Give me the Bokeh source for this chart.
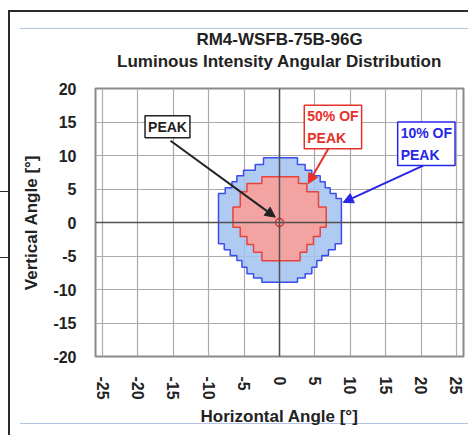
from bokeh.plotting import figure
from bokeh.models import FixedTicker, Span, Label, Arrow, NormalHead, LinearAxis
from bokeh.embed import file_html
from bokeh.resources import INLINE

# ---------------- data ----------------
title_top = "RM4-WSFB-75B-96G"
title_sub = "Luminous Intensity Angular Distribution"
x_label = "Horizontal Angle [°]"
y_label = "Vertical Angle [°]"
x_ticks = [-25, -20, -15, -10, -5, 0, 5, 10, 15, 20, 25]
y_ticks = [-20, -15, -10, -5, 0, 5, 10, 15, 20]

# 10 % of peak contour (stepped rows: row i spans blue_y_edges[i] .. blue_y_edges[i+1])
blue_y_edges = [9.66, 8.66, 7.81, 6.97, 6.07, 5.18, 4.33, 3.58, -3.18, -4.08, -4.93, -5.67, -6.67, -7.66, -8.3, -8.9]
blue_left = [-2.26, -3.43, -5.08, -6.02, -6.72, -7.67, -8.62, -8.62, -7.81, -6.96, -6.02, -5.31, -4.6, -3.67, -2.49]
blue_right = [2.54, 3.63, 4.57, 5.75, 6.46, 7.16, 8.0, 8.75, 7.87, 6.92, 5.98, 5.28, 4.57, 3.63, 2.54]

# 50 % of peak contour
red_y_edges = [6.82, 5.82, 4.58, 2.3, -0.7, -2.09, -3.28, -4.43, -5.7]
red_left = [-2.49, -4.6, -5.55, -6.58, -5.55, -4.6, -3.67, -2.49]
red_right = [2.69, 3.87, 5.51, 6.6, 5.75, 4.8, 3.87, 2.92]

peak_x = [0.0]
peak_y = [0.0]

# call-outs: text, box corner (x, y), arrow start, arrow end, colour
callout_text = ["PEAK", "50% OF\nPEAK", "10% OF\nPEAK"]
callout_x = [-19.0, 3.5, 16.7]
callout_y = [15.95, 17.5, 15.0]
arrow_x0 = [-15.4, 6.9, 20.3]
arrow_y0 = [12.2, 11.0, 8.5]
arrow_x1 = [-0.6, 4.05, 9.0]
arrow_y1 = [0.8, 5.8, 3.0]
callout_color = ["#222222", "#e8302a", "#2626e6"]


def stairs(edges, left, right):
    xs, ys = [], []
    for i in range(len(left)):
        xs += [right[i], right[i]]
        ys += [edges[i], edges[i + 1]]
    for i in reversed(range(len(left))):
        xs += [left[i], left[i]]
        ys += [edges[i + 1], edges[i]]
    return xs, ys


FONT = "Liberation Sans"
TXT = "#222222"

p = figure(width=468, height=435, x_range=(-26, 26), y_range=(-20, 20),
           output_backend="svg", toolbar_location=None,
           min_border_left=95, min_border_right=5, min_border_top=88, min_border_bottom=79,
           background_fill_color="white", border_fill_color=None)

xa = p.below[0]
ya = p.left[0]

# faint document rules around the chart (page decoration)
dark = "#2b2b2b"
pale = "#b4c2e6"
p.styles = {"background": ", ".join([
    f"linear-gradient({dark},{dark}) 8px 10px / 460px 2px no-repeat",
    f"linear-gradient({dark},{dark}) 8px 10px / 2px 425px no-repeat",
    f"linear-gradient({dark},{dark}) 0px 191px / 9px 1px no-repeat",
    f"linear-gradient({dark},{dark}) 0px 257px / 9px 1px no-repeat",
    f"linear-gradient({pale},{pale}) 20px 28px / 448px 1px no-repeat",
    f"linear-gradient({pale},{pale}) 20px 423px / 448px 1px no-repeat",
    "white"])}

# title: first line is the plot title, second line is carried by a bare axis above the frame
p.title.text = title_top
p.title.align = "center"
p.title.text_font = FONT
p.title.text_font_size = "17px"
p.title.text_font_style = "bold"
p.title.text_color = TXT
p.title.standoff = 0

sub = LinearAxis(ticker=FixedTicker(ticks=[]), axis_label=title_sub,
                 axis_line_color=None, major_tick_line_color=None, minor_tick_line_color=None,
                 major_tick_out=0, major_tick_in=0, major_label_standoff=0,
                 major_label_text_font_size="0px",
                 axis_label_standoff=18, axis_label_text_font=FONT,
                 axis_label_text_font_size="17px", axis_label_text_font_style="bold",
                 axis_label_text_color=TXT)
p.add_layout(sub, "above")

# frame / grid
p.outline_line_color = "#8a8a8a"
p.outline_line_width = 2

xa.ticker = FixedTicker(ticks=x_ticks)
ya.ticker = FixedTicker(ticks=y_ticks)
p.xgrid[0].ticker = xa.ticker
p.ygrid[0].ticker = ya.ticker
for g in (p.xgrid[0], p.ygrid[0]):
    g.grid_line_color = "#ababab"
    g.grid_line_width = 1.2

xa.major_label_overrides = {t: str(t) for t in x_ticks}
ya.major_label_overrides = {t: str(t) for t in y_ticks}
xa.major_label_orientation = "vertical"
for ax in (xa, ya):
    ax.axis_line_color = None
    ax.major_tick_line_color = None
    ax.minor_tick_line_color = None
    ax.major_tick_out = 0
    ax.major_tick_in = 0
    ax.major_label_text_font = FONT
    ax.major_label_text_font_size = "16px"
    ax.major_label_text_font_style = "bold"
    ax.major_label_text_color = TXT
    ax.axis_label_text_font = FONT
    ax.axis_label_text_font_size = "17px"
    ax.axis_label_text_font_style = "bold"
    ax.axis_label_text_color = TXT
xa.axis_label = x_label
ya.axis_label = y_label
xa.major_label_standoff = 20
ya.major_label_standoff = 19
xa.axis_label_standoff = 4
ya.axis_label_standoff = 9

# contours
bx, by = stairs(blue_y_edges, blue_left, blue_right)
p.patch(bx, by, fill_color="#a2c2f0", fill_alpha=0.85, line_color="#3b4cf0", line_width=1.5)
rx, ry = stairs(red_y_edges, red_left, red_right)
p.patch(rx, ry, fill_color="#fc9d96", fill_alpha=0.88, line_color="#e8433a", line_width=1.5)

# centre lines
p.add_layout(Span(location=0, dimension="height", line_color="#505050", line_width=1.5))
p.add_layout(Span(location=0, dimension="width", line_color="#505050", line_width=1.5))

p.scatter(peak_x, peak_y, marker="circle", size=8, line_color="#e03030",
          fill_color="#f0a0a0", line_width=1.5)

# call-outs
for i in range(len(callout_text)):
    c = callout_color[i]
    p.add_layout(Arrow(end=NormalHead(size=10, fill_color=c, line_color=c),
                       x_start=arrow_x0[i], y_start=arrow_y0[i],
                       x_end=arrow_x1[i], y_end=arrow_y1[i],
                       line_color=c, line_width=2))
    p.add_layout(Label(x=callout_x[i], y=callout_y[i], text=callout_text[i], anchor="top_left",
                       text_font=FONT, text_font_size="14px", text_font_style="bold",
                       text_color=c, text_line_height=1.35,
                       border_line_color=c, border_line_width=1.5,
                       background_fill_color="white", padding=3))

open("out.html", "w").write(file_html(p, INLINE))
